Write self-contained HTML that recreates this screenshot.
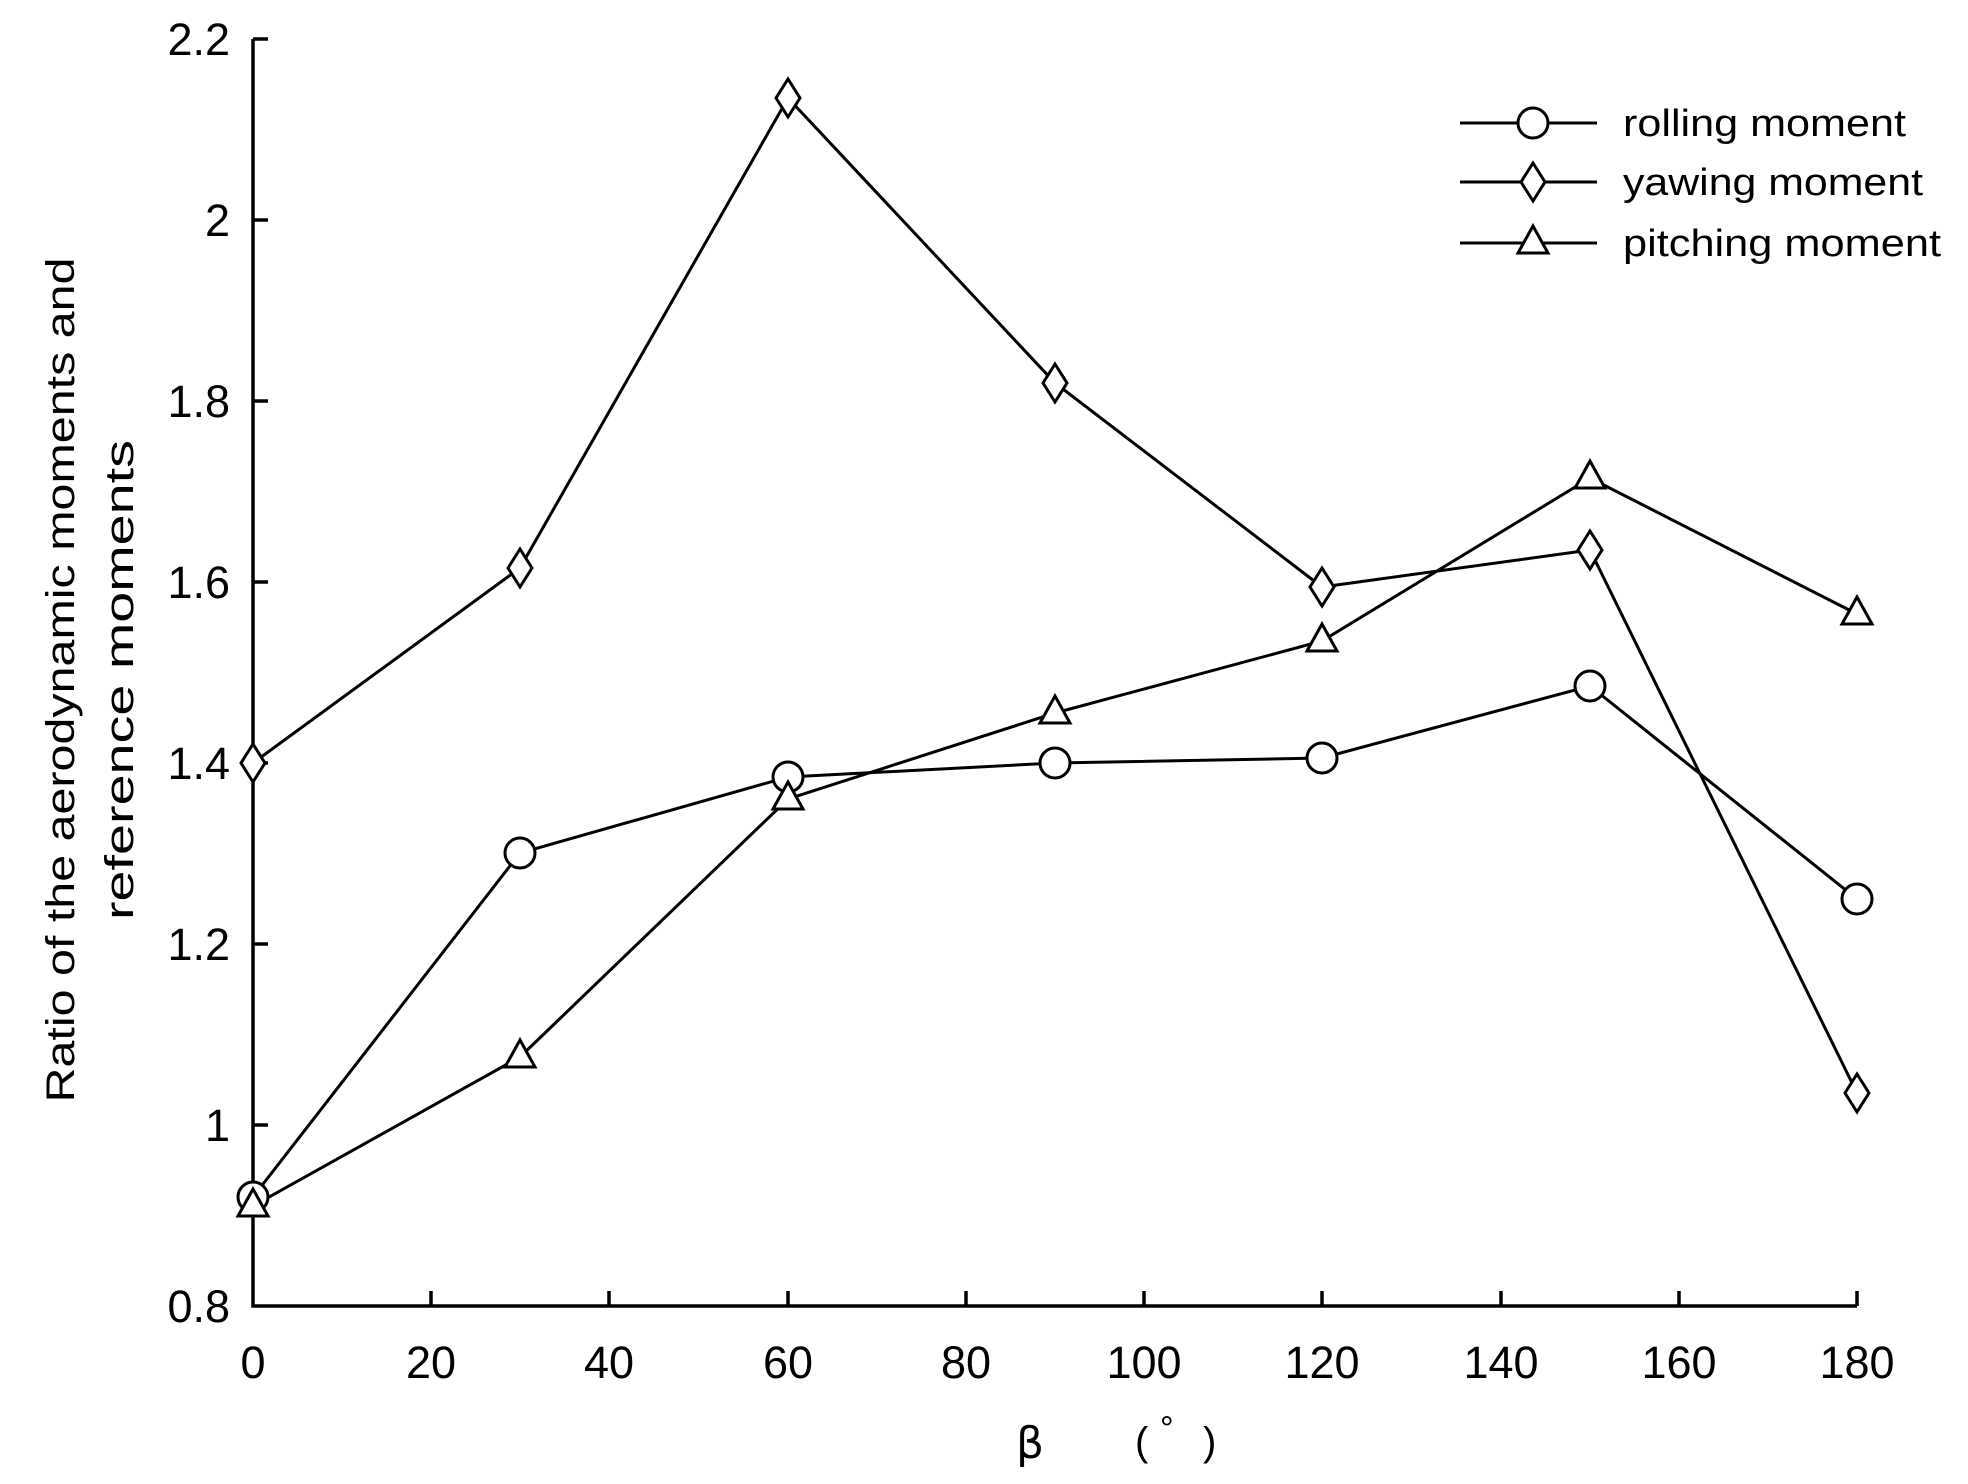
<!DOCTYPE html>
<html><head><meta charset="utf-8"><style>html,body{margin:0;padding:0;background:#fff}svg{display:block}</style></head>
<body>
<svg width="1968" height="1484" viewBox="0 0 1968 1484" xmlns="http://www.w3.org/2000/svg">
<defs>
<g id="c"><circle r="15" fill="#fff" stroke="#000" stroke-width="3"/></g>
<g id="d"><path d="M0,-19 L12,0 L0,19 L-12,0 Z" fill="#fff" stroke="#000" stroke-width="3"/></g>
<g id="t"><path d="M0,-17 L15,10 L-15,10 Z" fill="#fff" stroke="#000" stroke-width="3"/></g>
</defs>
<g stroke="#000" stroke-width="3.5" fill="none">
<path d="M253,39 V1306 H1857"/>
<path d="M253,39 H268 M253,220 H268 M253,401 H268 M253,582 H268 M253,763 H268 M253,944 H268 M253,1125 H268"/>
<path d="M431,1306 V1291 M609,1306 V1291 M788,1306 V1291 M966,1306 V1291 M1144,1306 V1291 M1322,1306 V1291 M1501,1306 V1291 M1679,1306 V1291 M1857,1306 V1291"/>
</g>
<g font-family="Liberation Sans, sans-serif" font-size="45" text-anchor="end" fill="#000">
<text x="230" y="55">2.2</text><text x="230" y="236">2</text><text x="230" y="417">1.8</text><text x="230" y="598">1.6</text><text x="230" y="779">1.4</text><text x="230" y="960">1.2</text><text x="230" y="1141">1</text><text x="230" y="1322">0.8</text>
</g>
<g font-family="Liberation Sans, sans-serif" font-size="45" text-anchor="middle" fill="#000">
<text x="253" y="1378">0</text><text x="431" y="1378">20</text><text x="609" y="1378">40</text><text x="788" y="1378">60</text><text x="966" y="1378">80</text><text x="1144" y="1378">100</text><text x="1322" y="1378">120</text><text x="1501" y="1378">140</text><text x="1679" y="1378">160</text><text x="1857" y="1378">180</text>
</g>
<text x="1030" y="1458" font-family="DejaVu Sans, sans-serif" font-size="44" text-anchor="middle">β</text>
<text x="1135" y="1455" font-family="Liberation Sans, 'Noto Sans CJK SC', sans-serif" font-size="40">(</text>
<text x="1160" y="1440" font-family="Liberation Sans, sans-serif" font-size="34">°</text>
<text x="1203" y="1455" font-family="Liberation Sans, sans-serif" font-size="40">)</text>
<g font-family="Liberation Sans, sans-serif" font-size="40" text-anchor="middle" fill="#000">
<text transform="translate(74,680) rotate(-90)" textLength="845" lengthAdjust="spacingAndGlyphs">Ratio of the aerodynamic moments and</text>
<text transform="translate(133,680) rotate(-90)" textLength="480" lengthAdjust="spacingAndGlyphs">reference moments</text>
</g>
<g fill="none" stroke="#000" stroke-width="3">
<polyline points="253,1197 520,853 788,777 1055,763 1322,758 1590,686 1857,899"/>
<polyline points="253,763 520,568 788,98 1055,383 1322,587 1590,550 1857,1093"/>
<polyline points="253,1206 520,1057 788,799 1055,713 1322,641 1590,478 1857,614"/>
<path d="M1460,123 H1597 M1460,182 H1597 M1460,243 H1597"/>
</g>
<g>
<use href="#c" x="253" y="1197"/><use href="#c" x="520" y="853"/><use href="#c" x="788" y="777"/><use href="#c" x="1055" y="763"/><use href="#c" x="1322" y="758"/><use href="#c" x="1590" y="686"/><use href="#c" x="1857" y="899"/>
<use href="#d" x="253" y="763"/><use href="#d" x="520" y="568"/><use href="#d" x="788" y="98"/><use href="#d" x="1055" y="383"/><use href="#d" x="1322" y="587"/><use href="#d" x="1590" y="550"/><use href="#d" x="1857" y="1093"/>
<use href="#t" x="253" y="1206"/><use href="#t" x="520" y="1057"/><use href="#t" x="788" y="799"/><use href="#t" x="1055" y="713"/><use href="#t" x="1322" y="641"/><use href="#t" x="1590" y="478"/><use href="#t" x="1857" y="614"/>
<use href="#c" x="1533" y="123"/><use href="#d" x="1533" y="182"/><use href="#t" x="1533" y="243"/>
</g>
<g font-family="Liberation Sans, sans-serif" font-size="38" fill="#000">
<text x="1623" y="136" textLength="283" lengthAdjust="spacingAndGlyphs">rolling moment</text>
<text x="1623" y="195" textLength="300" lengthAdjust="spacingAndGlyphs">yawing moment</text>
<text x="1623" y="256" textLength="318" lengthAdjust="spacingAndGlyphs">pitching moment</text>
</g>
</svg>
</body></html>
